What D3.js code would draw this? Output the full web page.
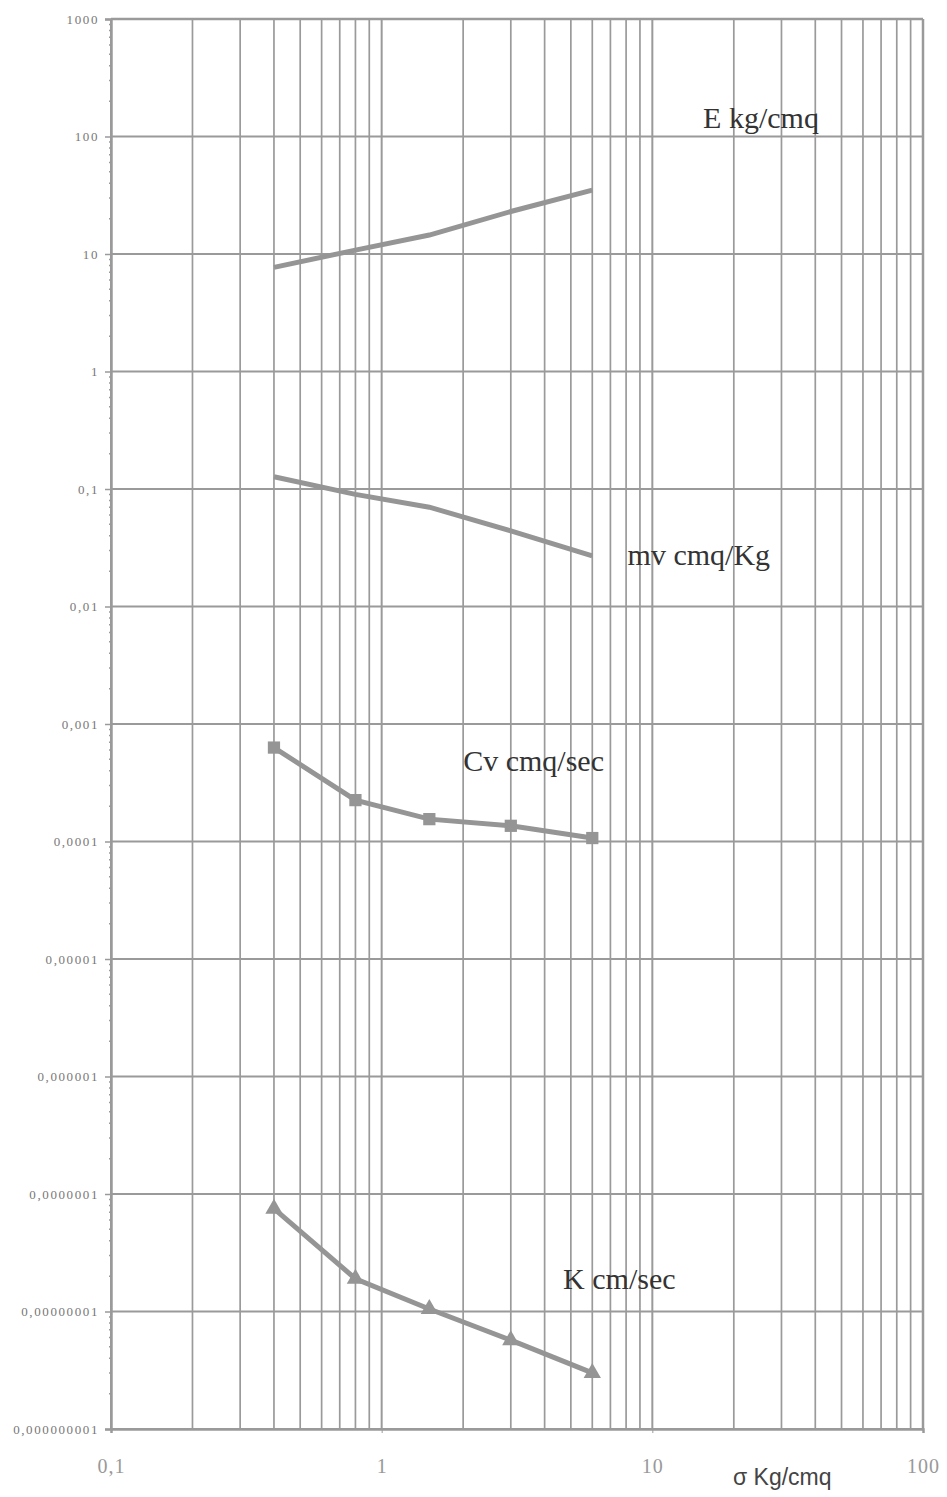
<!DOCTYPE html>
<html><head><meta charset="utf-8">
<script src="https://cdn.jsdelivr.net/npm/d3@7"></script>
<style>body{margin:0;background:#fff}svg{display:block}</style>
</head><body>
<svg id="c" width="947" height="1497"></svg>
<script>
const sigma = [0.4, 0.8, 1.5, 3, 6];
const E_vals = [7.7, 10.8, 14.5, 23, 35];
const mv_vals = [0.127, 0.09, 0.07, 0.044, 0.027];
const cv_vals = [6.3e-4, 2.25e-4, 1.55e-4, 1.36e-4, 1.07e-4];
const k_vals = [7.5e-8, 1.9e-8, 1.05e-8, 5.7e-9, 3.0e-9];
const yTickLabels = ["0,000000001","0,00000001","0,0000001","0,000001","0,00001","0,0001","0,001","0,01","0,1","1","10","100","1000"];
const xTickLabels = ["0,1","1","10","100"];
const seriesLabels = [
  {text:"E kg/cmq", x:15.4, y:118},
  {text:"mv cmq/Kg", x:8.1, y:0.0225},
  {text:"Cv cmq/sec", x:2.0, y:4.0e-4},
  {text:"K cm/sec", x:4.68, y:1.55e-8}
];

const svg = d3.select("#c");
const L=111, R=923, T=19, B=1429;
const x = d3.scaleLog().domain([0.1,100]).range([L,R]);
const y = d3.scaleLog().domain([1e-9,1000]).range([B,T]);
const grid = "#9a9a9a";

// vertical grid (minor + major)
const xg = [];
for (let d=0.1; d<100; d*=10) for (let m=1;m<=9;m++) xg.push(+(d*m).toPrecision(3));
xg.push(100);
svg.append("g").selectAll("line").data(xg).join("line")
  .attr("x1",d=>x(d)).attr("x2",d=>x(d)).attr("y1",T).attr("y2",B)
  .attr("stroke",grid).attr("stroke-width",d=>(Math.abs(Math.log10(d)-Math.round(Math.log10(d)))<1e-6)?2:1.7);

// horizontal grid at decades
const yg = d3.range(-9,4).map(e=>Math.pow(10,e));
svg.append("g").selectAll("line").data(yg).join("line")
  .attr("x1",L).attr("x2",R).attr("y1",d=>y(d)).attr("y2",d=>y(d))
  .attr("stroke",grid).attr("stroke-width",2);

// y axis
const yAxis = d3.axisLeft(y).tickValues(yg).tickFormat((d,i)=>yTickLabels[i]).tickSize(6).tickPadding(6);
const ya = svg.append("g").attr("transform",`translate(${L},0)`).call(yAxis);
ya.select(".domain").attr("stroke",grid).attr("stroke-width",2.5);
ya.selectAll(".tick line").attr("stroke",grid).attr("stroke-width",1.5);
ya.selectAll("text").attr("fill","#777").attr("font-family","Liberation Serif").attr("font-size",13).attr("letter-spacing","1.6px");
// minor ticks on y axis
const ym=[];
for (let e=-9;e<3;e++) for (let m=2;m<=9;m++) ym.push(m*Math.pow(10,e));
svg.append("g").selectAll("line").data(ym).join("line")
  .attr("x1",L-2).attr("x2",L).attr("y1",d=>y(d)).attr("y2",d=>y(d)).attr("stroke",grid).attr("stroke-width",1.5);

// x axis
const xAxis = d3.axisBottom(x).tickValues([0.1,1,10,100]).tickFormat((d,i)=>xTickLabels[i]).tickSize(4).tickPadding(26);
const xa = svg.append("g").attr("transform",`translate(0,${B})`).call(xAxis);
xa.select(".domain").attr("stroke",grid).attr("stroke-width",2.5);
xa.selectAll(".tick line").attr("stroke",grid);
xa.selectAll("text").attr("fill","#999").attr("font-family","Liberation Serif").attr("font-size",20).attr("letter-spacing","1px");
// border top/right
svg.append("line").attr("x1",L).attr("x2",R).attr("y1",T).attr("y2",T).attr("stroke",grid).attr("stroke-width",2.5);
svg.append("line").attr("x1",R).attr("x2",R).attr("y1",T).attr("y2",B).attr("stroke",grid).attr("stroke-width",2.5);

// series
const lineCol = "#959595";
const line = d3.line().x(d=>x(d[0])).y(d=>y(d[1]));
function series(vals, marker){
  const pts = sigma.map((s,i)=>[s,vals[i]]);
  svg.append("path").datum(pts).attr("d",line).attr("fill","none").attr("stroke",lineCol).attr("stroke-width",5);
  if (marker){
    const sym = d3.symbol().type(marker==="square"?d3.symbolSquare:d3.symbolTriangle).size(marker==="square"?150:130);
    svg.append("g").selectAll("path").data(pts).join("path")
      .attr("transform",d=>`translate(${x(d[0])},${y(d[1])})`).attr("d",sym).attr("fill",lineCol);
  }
}
series(E_vals);
series(mv_vals);
series(cv_vals,"square");
series(k_vals,"triangle");

// series labels
svg.append("g").selectAll("text").data(seriesLabels).join("text")
  .attr("x",d=>x(d.x)).attr("y",d=>y(d.y)).text(d=>d.text)
  .attr("font-family","Liberation Serif").attr("font-size",30).attr("fill","#333");

// x title
svg.append("text").attr("x",733).attr("y",1485).text("σ  Kg/cmq")
  .attr("font-family","Liberation Sans").attr("font-size",23).attr("fill","#444");
</script>
</body></html>
